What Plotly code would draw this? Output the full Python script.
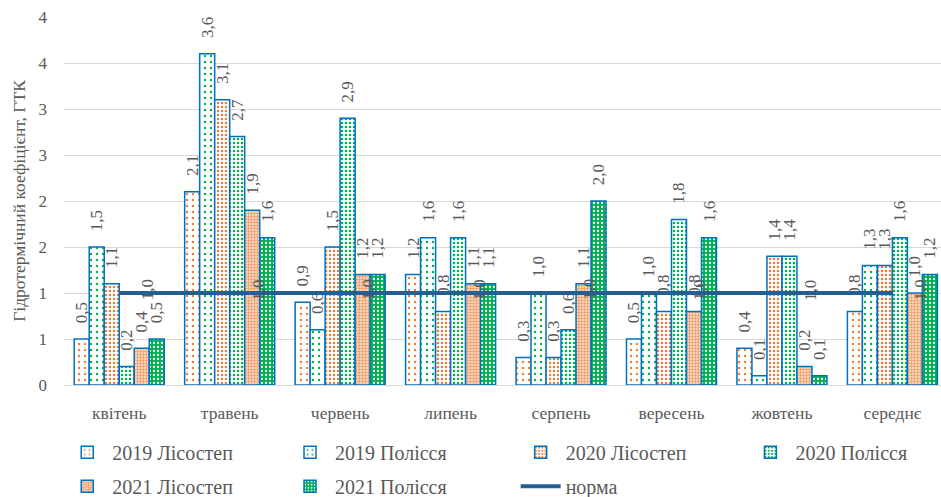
import plotly.graph_objects as go

# Months of the vegetation period plus the seasonal mean
categories = ["квітень", "травень", "червень", "липень", "серпень", "вересень", "жовтень", "середнє"]

# Hydrothermal coefficient (ГТК) by year and zone
htc_2019_lisostep = [0.5, 2.1, 0.9, 1.2, 0.3, 0.5, 0.4, 0.8]
htc_2019_polissia = [1.5, 3.6, 0.6, 1.6, 1.0, 1.0, 0.1, 1.3]
htc_2020_lisostep = [1.1, 3.1, 1.5, 0.8, 0.3, 0.8, 1.4, 1.3]
htc_2020_polissia = [0.2, 2.7, 2.9, 1.6, 0.6, 1.8, 1.4, 1.6]
htc_2021_lisostep = [0.4, 1.9, 1.2, 1.1, 1.1, 0.8, 0.2, 1.0]
htc_2021_polissia = [0.5, 1.6, 1.2, 1.1, 2.0, 1.6, 0.1, 1.2]
norm = [1.0, 1.0, 1.0, 1.0, 1.0, 1.0, 1.0, 1.0]

y_tick_values = [0, 0.5, 1, 1.5, 2, 2.5, 3, 3.5, 4]
y_tick_labels = ["0", "1", "1", "2", "2", "3", "3", "4", "4"]

FONT = "Liberation Serif"
GREY = "#595959"
ORANGE = "#ED7D31"
GREEN = "#00B050"
OUTLINE = "#0070C0"

series = [
    ("2019 Лісостеп", htc_2019_lisostep, dict(shape=".", bgcolor="white", fgcolor=ORANGE, size=6, solidity=0.12)),
    ("2019 Полісся", htc_2019_polissia, dict(shape=".", bgcolor="white", fgcolor=GREEN, size=6, solidity=0.12)),
    ("2020 Лісостеп", htc_2020_lisostep, dict(shape=".", bgcolor="white", fgcolor=ORANGE, size=4, solidity=0.3)),
    ("2020 Полісся", htc_2020_polissia, dict(shape=".", bgcolor="white", fgcolor=GREEN, size=4, solidity=0.3)),
    ("2021 Лісостеп", htc_2021_lisostep, dict(shape=".", bgcolor="#FBE3D3", fgcolor="#EE9A62", size=3, solidity=0.5)),
    ("2021 Полісся", htc_2021_polissia, dict(shape=".", bgcolor=GREEN, fgcolor="white", size=4, solidity=0.25)),
]

# Legend slots: two rows of up to four entries under the plot
legend_slots = [(-0.002, -0.13), (0.252, -0.13), (0.515, -0.13), (0.777, -0.13),
                (-0.002, -0.222), (0.252, -0.222), (0.515, -0.222)]
legend_ids = ["legend"] + [f"legend{i}" for i in range(2, len(legend_slots) + 1)]

fig = go.Figure()

for (name, values, pattern), legend_id in zip(series, legend_ids):
    fig.add_trace(go.Bar(
        name=name,
        x=categories,
        y=values,
        legend=legend_id,
        marker=dict(color="white", pattern=dict(fillmode="replace", **pattern),
                    line=dict(color=OUTLINE, width=1.5)),
        texttemplate="\u00a0\u00a0\u00a0%{y:.1f}",
        textposition="outside",
        textangle=-90,
        constraintext="none",
        cliponaxis=False,
        textfont=dict(family=FONT, size=17, color=GREY),
    ))

fig.add_trace(go.Scatter(
    name="норма",
    x=categories,
    y=norm,
    legend=legend_ids[6],
    mode="lines",
    line=dict(color="#255E91", width=4),
))

# Rotated value labels for the norm line
for cat, val in zip(categories, norm):
    fig.add_annotation(
        x=cat, y=val, text=f"{val:.1f}".replace(".", ","),
        textangle=-90, showarrow=False, xshift=28, yshift=3,
        font=dict(family=FONT, size=17, color=GREY),
    )

legend_layout = {
    lid: dict(
        orientation="h", x=lx, y=ly, xanchor="left", yanchor="top",
        font=dict(family=FONT, size=20, color=GREY),
        itemwidth=40, bgcolor="rgba(0,0,0,0)",
    )
    for lid, (lx, ly) in zip(legend_ids, legend_slots)
}

fig.update_layout(
    width=941, height=497,
    margin=dict(l=64, r=0, t=17, b=112, autoexpand=False),
    paper_bgcolor="white", plot_bgcolor="white",
    barmode="group", bargap=0.185, bargroupgap=0,
    separators=", ",
    font=dict(family=FONT, size=17, color=GREY),
    showlegend=True,
    xaxis=dict(
        range=[-0.5, 7.44],
        showgrid=False, showline=True, linecolor="#D9D9D9", linewidth=1,
        ticks="", tickfont=dict(family=FONT, size=17.5, color=GREY),
        ticklabelstandoff=12,
    ),
    yaxis=dict(
        range=[0, 4],
        tickvals=y_tick_values, ticktext=y_tick_labels,
        showgrid=True, gridcolor="#D9D9D9", gridwidth=1,
        zeroline=False, showline=False, ticks="",
        tickfont=dict(family=FONT, size=17, color=GREY),
        ticklabelstandoff=16,
        title=dict(text="Гідротермічний коефіцієнт, ГТК",
                   font=dict(family=FONT, size=17.5, color=GREY), standoff=8),
    ),
    **legend_layout,
)

fig.write_html("out.html")
